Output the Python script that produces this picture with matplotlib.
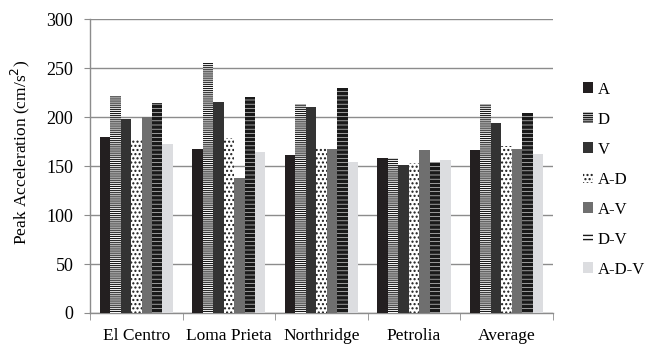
import matplotlib.pyplot as plt
import numpy as np

plt.rcParams['font.family'] = ['Liberation Serif', 'DejaVu Serif']

# peak accelerations, cm/s^2
records = ['El Centro', 'Loma Prieta', 'Northridge', 'Petrolia', 'Average']
a_vals = [180, 167, 161, 158, 166]
d_vals = [221, 255, 213, 158, 213]
v_vals = [198, 215, 210, 151, 194]
ad_vals = [177, 179, 168, 153, 170]
av_vals = [200, 138, 167, 166, 167]
dv_vals = [214, 220, 230, 154, 204]
adv_vals = [173, 164, 154, 156, 162]

series = [
    ('A', a_vals, '#231f20', None, 1.0),
    ('D', d_vals, 'white', '--------', 0.8),
    ('V', v_vals, '#333333', None, 1.0),
    ('A-D', ad_vals, 'white', '....', 1.0),
    ('A-V', av_vals, '#6f6f6f', None, 1.0),
    ('D-V', dv_vals, 'white', '----', 2.6),
    ('A-D-V', adv_vals, '#dcdde0', None, 1.0),
]

fig = plt.figure(figsize=(6.49, 3.47), dpi=100)
ax = fig.add_axes([0.1387, 0.098, 0.713, 0.847])

x = np.arange(len(records))
w = 0.113
for i, (name, vals, col, hatch, hlw) in enumerate(series):
    with plt.rc_context({'hatch.linewidth': hlw}):
        ax.bar(x + (i - 3) * w, vals, w, color=col, edgecolor='#1a1a1a',
               linewidth=0, hatch=hatch, label=name, zorder=3)

ax.set_ylim(0, 300)
ax.set_xlim(-0.5, len(records) - 0.5)
ax.set_yticks(range(0, 301, 50))
ax.yaxis.grid(True, color='#8c8c8c', linewidth=1.0, zorder=0)
ax.set_axisbelow(True)

ax.set_xticks(x)
ax.set_xticklabels(records, fontsize=12.5)
ax.tick_params(axis='x', length=0, pad=11)
ax.set_xticks(np.arange(-0.5, len(records)), minor=True)
ax.tick_params(axis='x', which='minor', length=5, color='#8c8c8c')
ax.tick_params(axis='y', labelsize=13, length=4, color='#8c8c8c', pad=8)

for s in ['top', 'right']:
    ax.spines[s].set_visible(False)
for s in ['left', 'bottom']:
    ax.spines[s].set_color('#8c8c8c')
    ax.spines[s].set_linewidth(1.0)

ax.set_ylabel('Peak Acceleration (cm/s$^2$)', fontsize=12.5)
ax.yaxis.set_label_coords(-0.125, 0.548)

ax.legend(loc='upper left', bbox_to_anchor=(1.05, 0.81), frameon=False,
          fontsize=12, handlelength=0.6, handleheight=0.6, handletextpad=0.3,
          labelspacing=0.84, borderaxespad=0)

fig.savefig('out.png', dpi=100)
